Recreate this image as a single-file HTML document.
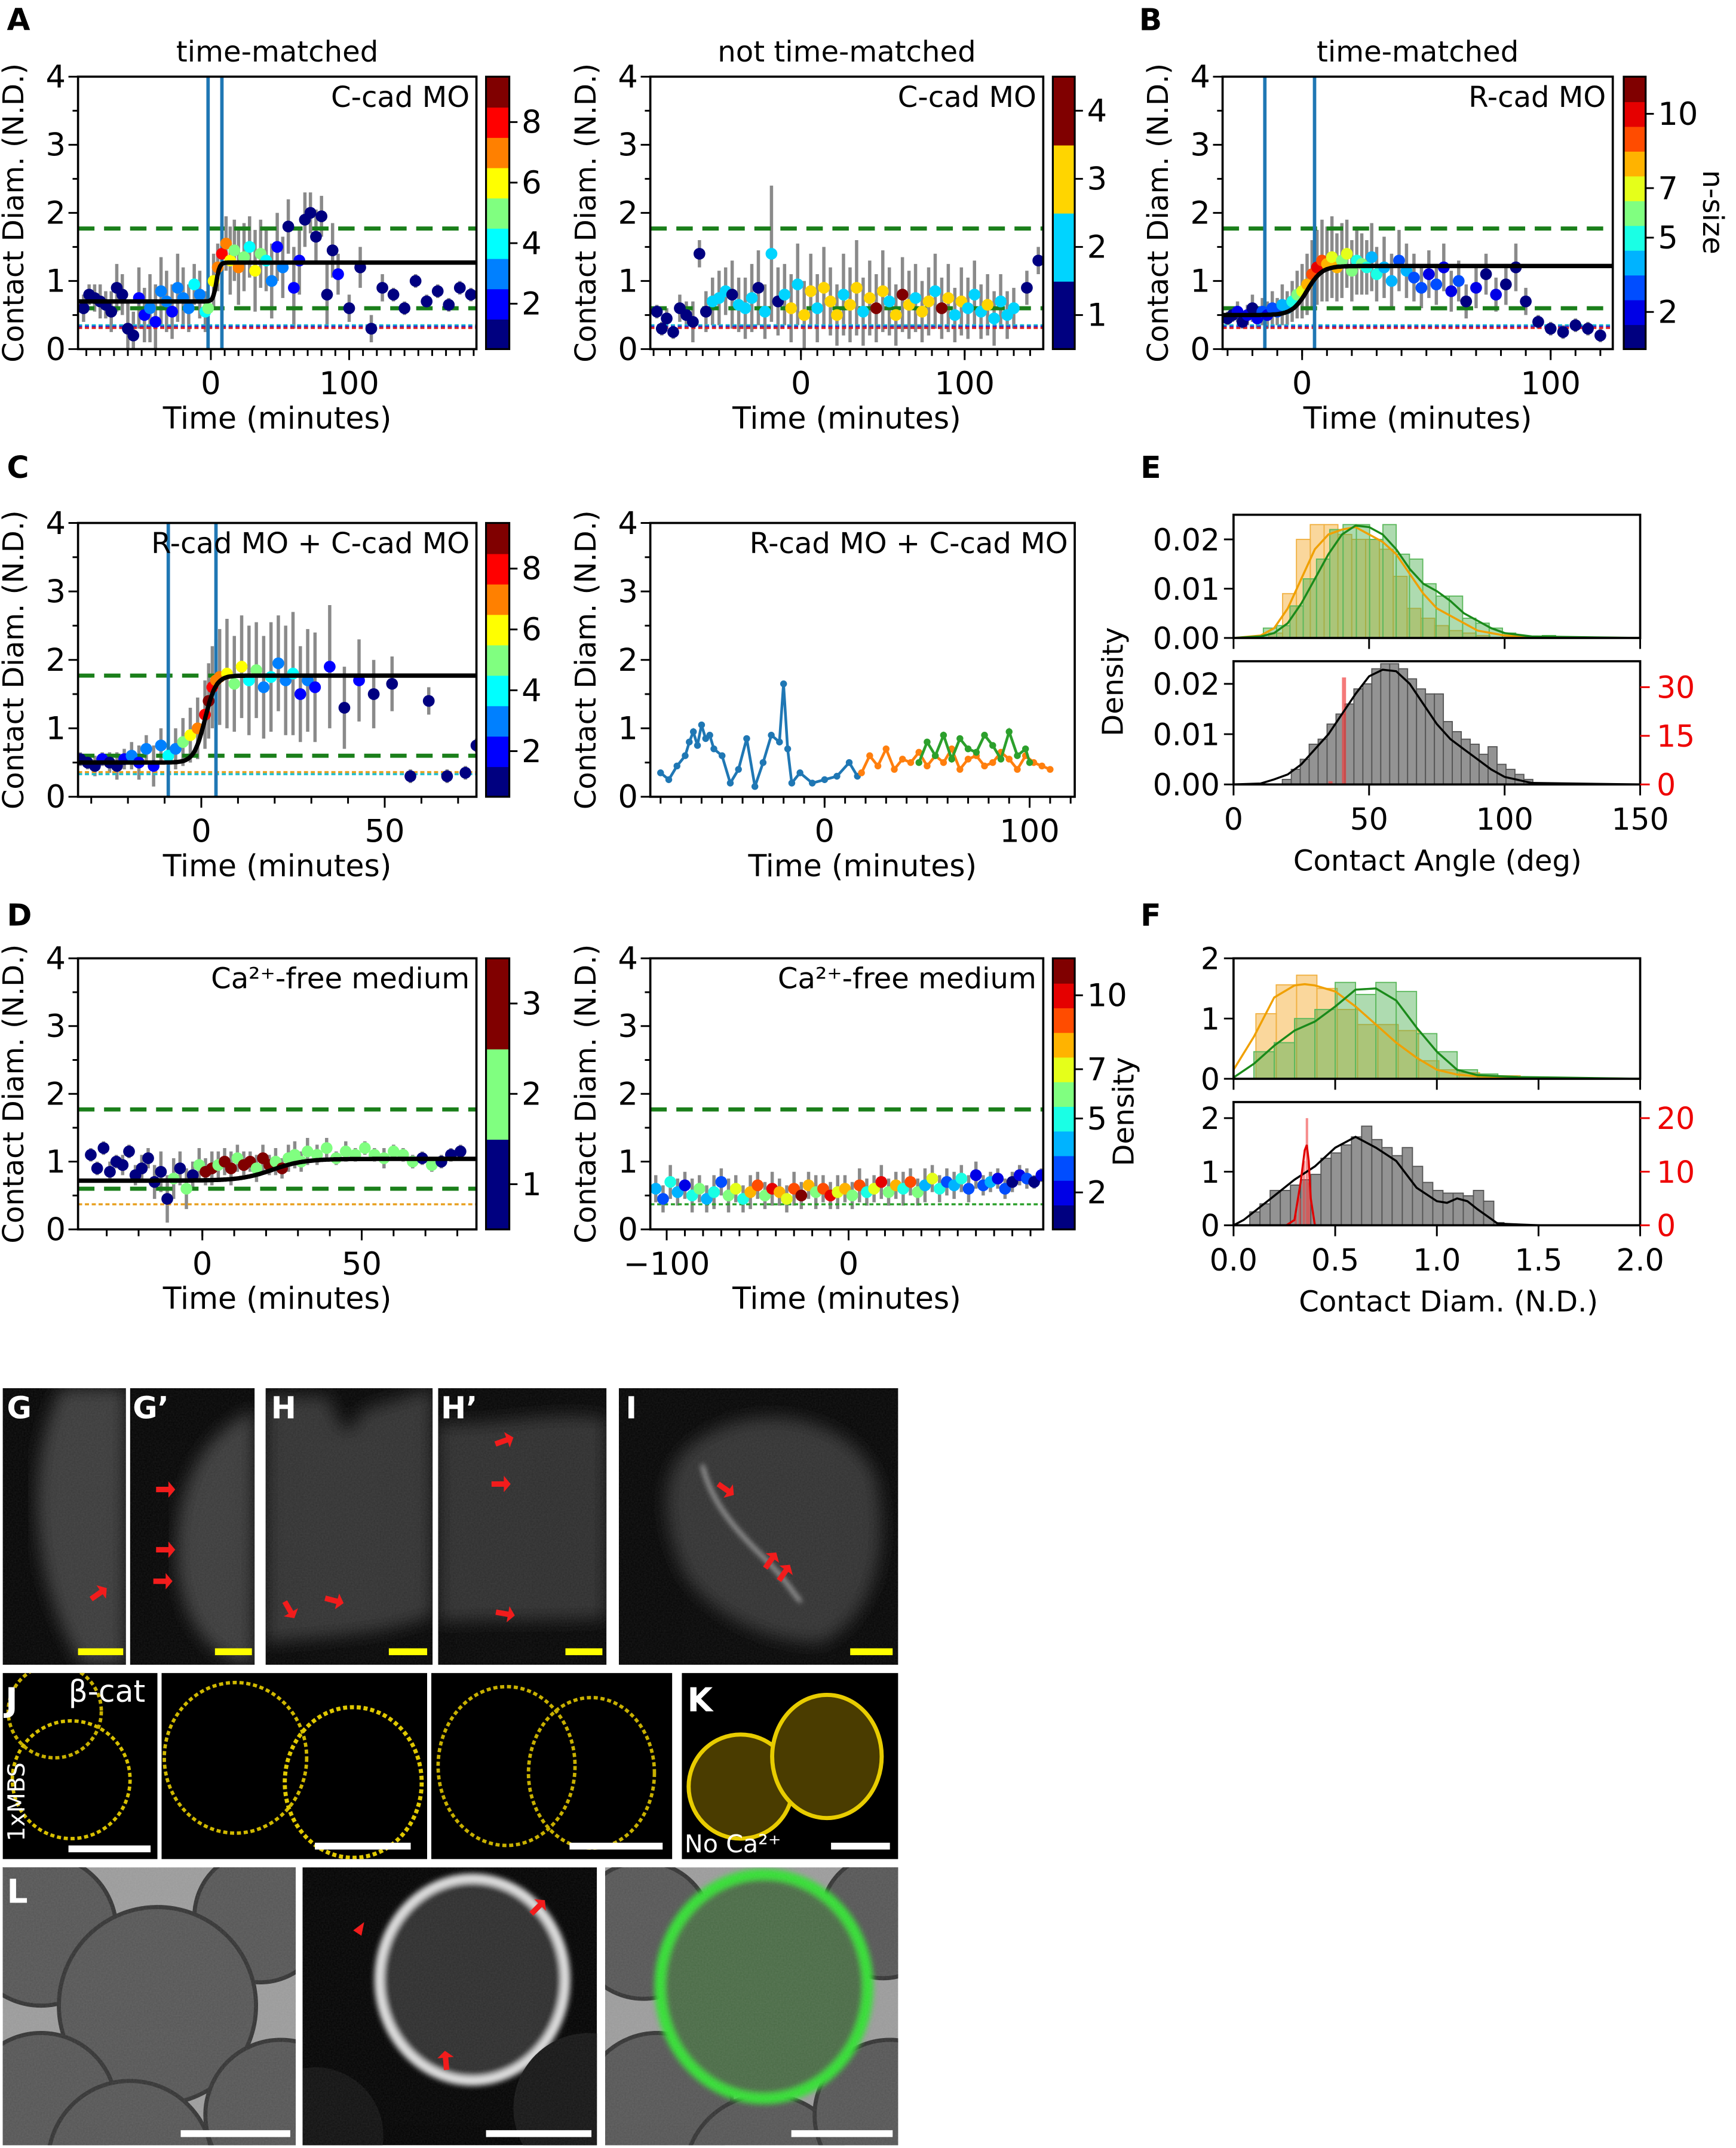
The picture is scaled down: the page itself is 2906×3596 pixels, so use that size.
<!DOCTYPE html>
<html><head><meta charset="utf-8">
<style>
html,body{margin:0;padding:0;background:#fff;width:2906px;height:3596px;overflow:hidden}
svg{display:block}
text{font-family:"DejaVu Sans","Liberation Sans",sans-serif}
</style></head>
<body>
<svg id="fig" xmlns="http://www.w3.org/2000/svg" width="2906" height="3596" viewBox="0 0 1268 1569" preserveAspectRatio="none">
<defs>
<filter id="blur2"><feGaussianBlur stdDeviation="2"/></filter>
<filter id="blur6"><feGaussianBlur stdDeviation="6"/></filter>
<filter id="noise" x="0" y="0" width="100%" height="100%">
<feTurbulence type="fractalNoise" baseFrequency="0.9" numOctaves="1" result="n"/>
<feColorMatrix type="matrix" values="0 0 0 0 1 0 0 0 0 1 0 0 0 0 1 0 0 0 0.35 0"/>
</filter>
</defs>
</svg>
<script>
// ---------- data: panel A (C-cad MO, time-matched) ----------
const tA1=[-92,-88,-84,-80,-76,-72,-68,-64,-60,-56,-52,-48,-44,-40,-36,-32,-28,-24,-20,-16,-12,-8,-4,-2,2,5,8,11,14,17,20,24,28,32,36,40,44,48,52,56,60,64,68,72,76,80,84,88,92,100,108,116,124,132,140,148,156,164,172,180,188];
const yA1=[0.6,0.8,0.75,0.7,0.65,0.55,0.9,0.8,0.3,0.2,0.75,0.5,0.6,0.4,0.85,0.7,0.55,0.9,0.75,0.6,0.95,0.8,0.55,0.6,1.0,1.2,1.4,1.55,1.3,1.45,1.2,1.35,1.5,1.15,1.4,1.3,1.0,1.5,1.2,1.8,0.9,1.3,1.9,2.0,1.65,1.95,0.8,1.45,1.1,0.6,1.2,0.3,0.9,0.8,0.6,1.0,0.7,0.85,0.65,0.9,0.8];
const nA1=[1,1,1,1,1,1,1,1,1,1,2,2,3,2,3,3,2,3,3,3,4,3,4,5,6,7,8,7,6,5,7,5,4,6,5,4,3,2,3,1,2,2,1,1,1,1,1,1,2,1,1,1,1,1,1,1,1,1,1,1,1];
const eA1=[0.2,0.15,0.2,0.25,0.2,0.3,0.35,0.3,0.4,0.35,0.45,0.4,0.5,0.55,0.5,0.45,0.4,0.5,0.45,0.35,0.3,0.35,0.3,0.3,0.4,0.35,0.45,0.4,0.5,0.45,0.55,0.5,0.45,0.6,0.5,0.45,0.55,0.5,0.45,0.4,0.6,0.5,0.4,0.3,0.4,0.3,0.5,0.4,0.3,0.2,0.3,0.2,0.2,0.1,0.1,0.1,0.1,0.1,0.1,0.1,0.1];
// ---------- panel A right (not time-matched) ----------
const tA2=[-88,-85,-82,-78,-74,-70,-66,-62,-58,-54,-50,-46,-42,-38,-34,-30,-26,-22,-18,-14,-10,-6,-2,2,6,10,14,18,22,26,30,34,38,42,46,50,54,58,62,66,70,74,78,82,86,90,94,98,102,106,110,114,118,122,126,130,138,145];
const yA2=[0.55,0.3,0.45,0.25,0.6,0.5,0.4,1.4,0.55,0.7,0.75,0.85,0.8,0.65,0.6,0.75,0.9,0.55,1.4,0.7,0.8,0.6,0.95,0.5,0.85,0.6,0.9,0.7,0.5,0.8,0.65,0.9,0.55,0.75,0.6,0.85,0.7,0.5,0.8,0.65,0.75,0.55,0.7,0.85,0.6,0.75,0.5,0.7,0.6,0.8,0.55,0.65,0.45,0.7,0.5,0.6,0.9,1.3];
const nA2=[1,1,1,1,1,1,1,1,1,2,2,2,1,2,2,2,1,2,2,1,2,3,2,3,3,2,3,3,3,2,3,3,2,3,4,3,2,3,4,3,2,3,3,2,4,3,2,3,2,2,2,3,2,2,2,2,1,1];
const eA2=[0.1,0.1,0.15,0.1,0.2,0.2,0.3,0.2,0.3,0.35,0.4,0.35,0.5,0.4,0.45,0.5,0.55,0.4,1.0,0.5,0.45,0.5,0.6,0.5,0.55,0.5,0.6,0.5,0.45,0.6,0.55,0.7,0.5,0.55,0.5,0.6,0.5,0.45,0.55,0.5,0.5,0.45,0.5,0.55,0.45,0.5,0.4,0.5,0.45,0.5,0.4,0.45,0.4,0.4,0.35,0.3,0.25,0.2];
// ---------- panel B (R-cad MO) ----------
const tB=[-30,-28,-26,-24,-22,-20,-18,-16,-14,-12,-10,-8,-6,-4,-2,0,2,4,6,8,10,12,14,16,18,20,22,24,26,28,30,33,36,39,42,45,48,51,54,57,60,63,66,70,74,78,82,86,90,95,100,105,110,115,120];
const yB=[0.45,0.5,0.55,0.4,0.5,0.6,0.45,0.55,0.5,0.6,0.55,0.65,0.6,0.7,0.8,0.85,0.95,1.1,1.2,1.3,1.25,1.35,1.2,1.3,1.4,1.15,1.3,1.25,1.2,1.35,1.1,1.2,1.0,1.3,1.15,1.05,0.9,1.1,0.95,1.2,0.85,1.0,0.7,0.9,1.1,0.8,0.95,1.2,0.7,0.4,0.3,0.25,0.35,0.3,0.2];
const nB=[1,1,2,1,2,1,2,3,2,3,3,4,4,5,6,7,8,9,10,9,8,7,8,6,7,6,5,6,5,4,5,4,4,3,4,3,3,2,3,2,2,3,1,2,1,2,1,1,1,1,1,1,1,1,1];
const eB=[0.1,0.1,0.15,0.1,0.15,0.2,0.15,0.2,0.2,0.25,0.2,0.3,0.25,0.3,0.35,0.4,0.45,0.5,0.55,0.6,0.55,0.6,0.5,0.55,0.5,0.45,0.5,0.45,0.4,0.5,0.4,0.45,0.4,0.45,0.4,0.35,0.3,0.35,0.3,0.35,0.3,0.3,0.25,0.3,0.3,0.25,0.3,0.35,0.2,0.1,0.1,0.1,0.1,0.1,0.1];
// ---------- panel C left (R-cad MO + C-cad MO) ----------
const tC1=[-33,-31,-29,-27,-25,-23,-21,-19,-17,-15,-13,-11,-9,-7,-5,-3,-1,1,2,3,4,5,7,9,11,13,15,17,19,21,23,25,27,29,31,35,39,43,47,52,57,62,67,72,75];
const yC1=[0.55,0.5,0.45,0.55,0.5,0.45,0.55,0.6,0.5,0.7,0.45,0.75,0.6,0.7,0.8,0.9,1.0,1.2,1.4,1.6,1.7,1.75,1.8,1.65,1.9,1.7,1.85,1.6,1.75,1.95,1.7,1.8,1.5,1.7,1.6,1.9,1.3,1.7,1.5,1.65,0.3,1.4,0.3,0.35,0.75];
const nC1=[1,1,1,2,1,1,2,3,2,3,2,3,4,3,5,6,7,8,9,8,7,7,6,5,6,4,5,3,4,3,3,4,2,3,2,2,1,2,1,1,1,1,1,1,1];
const eC1=[0.1,0.1,0.15,0.1,0.15,0.2,0.15,0.2,0.25,0.2,0.3,0.25,0.3,0.3,0.35,0.4,0.45,0.5,0.55,0.6,0.6,0.7,0.8,0.7,0.75,0.8,0.7,0.75,0.8,0.7,0.8,0.9,0.7,0.75,0.8,0.9,0.6,0.6,0.5,0.4,0.1,0.2,0.1,0.1,0.1];
// ---------- panel C right (individual traces) ----------
const tC2a=[-80,-76,-72,-68,-66,-64,-62,-60,-58,-56,-54,-50,-46,-42,-38,-34,-30,-26,-22,-20,-18,-16,-12,-6,0,6,12,16];
const yC2a=[0.35,0.25,0.45,0.6,0.8,0.95,0.75,1.05,0.85,0.9,0.7,0.6,0.2,0.4,0.85,0.15,0.5,0.9,0.8,1.65,0.7,0.2,0.35,0.2,0.25,0.3,0.5,0.3];
const tC2b=[18,22,26,30,34,38,42,46,50,54,58,62,66,70,74,78,82,86,90,94,98,102,106,110];
const yC2b=[0.35,0.6,0.45,0.7,0.4,0.55,0.5,0.65,0.45,0.6,0.5,0.7,0.4,0.55,0.6,0.45,0.5,0.65,0.55,0.4,0.6,0.5,0.45,0.4];
const tC2c=[46,50,54,58,62,66,70,74,78,82,86,90,94,98,100];
const yC2c=[0.5,0.8,0.6,0.9,0.55,0.85,0.7,0.65,0.9,0.75,0.55,0.95,0.6,0.7,0.5];
// ---------- panel D left (Ca2+-free) ----------
const tD1=[-35,-33,-31,-29,-27,-25,-23,-21,-19,-17,-15,-13,-11,-9,-7,-5,-3,-1,1,3,5,7,9,11,13,15,17,19,21,23,25,27,29,31,33,36,39,42,45,48,51,54,57,60,63,66,69,72,75,78,81];
const yD1=[1.1,0.9,1.2,0.85,1.0,0.95,1.15,0.8,0.9,1.05,0.7,0.85,0.45,0.75,0.9,0.6,0.8,0.95,0.85,0.9,0.95,1.0,0.9,1.05,0.95,1.0,0.9,1.05,0.95,1.0,0.9,1.05,1.1,1.0,1.15,1.1,1.2,1.05,1.15,1.1,1.2,1.1,1.05,1.15,1.1,1.0,1.05,0.95,1.0,1.1,1.15];
const nD1=[1,1,1,1,1,1,1,1,1,1,1,1,1,2,1,2,1,2,3,3,2,3,3,2,3,3,2,3,3,2,3,2,2,2,2,2,2,2,2,2,2,2,2,2,2,2,1,2,1,1,1];
const eD1=[0.1,0.1,0.1,0.15,0.1,0.15,0.1,0.15,0.2,0.15,0.25,0.3,0.35,0.3,0.25,0.3,0.2,0.25,0.2,0.25,0.2,0.2,0.25,0.2,0.2,0.15,0.2,0.2,0.15,0.2,0.15,0.2,0.2,0.15,0.2,0.15,0.15,0.1,0.15,0.1,0.1,0.1,0.15,0.1,0.1,0.1,0.1,0.1,0.1,0.1,0.1];
// ---------- panel D right ----------
const tD2=[-106,-102,-98,-94,-90,-86,-82,-78,-74,-70,-66,-62,-58,-54,-50,-46,-42,-38,-34,-30,-26,-22,-18,-14,-10,-6,-2,2,6,10,14,18,22,26,30,34,38,42,46,50,54,58,62,66,70,74,78,82,86,90,94,98,102,106];
const yD2=[0.6,0.45,0.7,0.55,0.65,0.5,0.6,0.45,0.55,0.7,0.5,0.6,0.45,0.55,0.65,0.5,0.6,0.55,0.45,0.6,0.5,0.65,0.55,0.6,0.5,0.55,0.6,0.5,0.65,0.55,0.6,0.7,0.55,0.65,0.6,0.7,0.55,0.65,0.75,0.6,0.7,0.65,0.75,0.6,0.8,0.65,0.7,0.75,0.6,0.7,0.8,0.75,0.7,0.8];
const nD2=[4,3,5,4,2,5,6,4,5,3,6,7,5,8,9,6,10,8,7,9,11,8,6,9,10,7,8,6,9,5,7,10,6,8,5,9,6,4,7,5,3,4,5,3,2,3,4,2,3,1,2,3,1,2];
const eD2=[0.2,0.2,0.25,0.2,0.2,0.25,0.2,0.2,0.25,0.2,0.25,0.2,0.2,0.25,0.2,0.2,0.25,0.2,0.2,0.25,0.2,0.2,0.25,0.2,0.2,0.25,0.2,0.2,0.25,0.2,0.2,0.25,0.2,0.2,0.25,0.2,0.2,0.25,0.2,0.2,0.2,0.2,0.2,0.2,0.2,0.15,0.15,0.15,0.15,0.15,0.15,0.15,0.1,0.1];
// ---------- panel E histograms ----------
const eOrStart=13, eOrW=5.1;
const eOrH=[0.001,0.009,0.020,0.023,0.023,0.021,0.020,0.020,0.018,0.0125,0.006,0.004,0.0025,0.0015,0.001,0.0005];
const eGrStart=11, eGrW=4.9;
const eGrH=[0.002,0.0025,0.0065,0.012,0.016,0.022,0.023,0.023,0.020,0.023,0.017,0.016,0.011,0.0085,0.0085,0.004,0.003,0.002,0.001,0,0,0.0005];
const eGyStart=18, eGyW=3.3;
const eGyH=[0.001,0.003,0.005,0.008,0.009,0.012,0.014,0.016,0.019,0.020,0.023,0.024,0.024,0.023,0.021,0.019,0.018,0.018,0.0125,0.0105,0.009,0.008,0.006,0.0075,0.004,0.003,0.002,0.001];
const eRedX=[35,40], eRedW=1.5, eRedH=[1,33];
const eKdeX=[0,10,15,20,25,30,35,40,45,50,55,60,65,70,75,80,85,90,95,100,110,150];
const eKdeOr=[0,0.0005,0.002,0.006,0.012,0.018,0.021,0.022,0.0225,0.021,0.0195,0.017,0.013,0.009,0.006,0.0045,0.003,0.0015,0.001,0.0005,0.0002,0];
const eKdeGr=[0,0.0003,0.001,0.003,0.007,0.012,0.017,0.021,0.0228,0.0225,0.021,0.018,0.014,0.011,0.0095,0.0075,0.005,0.0035,0.002,0.001,0.0003,0];
const eKdeGy=[0,0.0002,0.001,0.002,0.004,0.007,0.010,0.014,0.018,0.0215,0.0228,0.0225,0.020,0.016,0.012,0.009,0.007,0.005,0.003,0.0015,0.0003,0];
// ---------- panel F histograms ----------
const fOrStart=0.11, fOrW=0.1;
const fOrH=[1.08,1.56,1.72,1.5,1.15,0.9,0.9,0.8,0.3,0.15,0.1,0.05,0.05];
const fGrStart=0.1, fGrW=0.1;
const fGrH=[0.45,0.6,1.0,1.15,1.6,1.4,1.6,1.45,0.75,0.45,0.15,0.08,0.03];
const fGyStart=0.08, fGyW=0.05;
const fGyH=[0.25,0.4,0.65,0.65,0.75,0.85,0.95,1.25,1.35,1.5,1.65,1.85,1.6,1.45,1.3,1.45,1.1,0.8,0.65,0.6,0.6,0.55,0.65,0.45,0.05];
const fRedX=[0.30,0.32,0.34,0.355,0.365], fRedW=0.012, fRedH=[2,5,12,20,8];
const fKdeX=[0,0.1,0.2,0.3,0.35,0.4,0.5,0.6,0.7,0.8,0.9,1.0,1.1,1.2,1.4,2.0];
const fKdeOr=[0.15,0.7,1.35,1.55,1.57,1.55,1.45,1.2,0.9,0.6,0.35,0.15,0.07,0.04,0.02,0];
const fKdeGrX=[0,0.1,0.2,0.3,0.4,0.5,0.6,0.7,0.8,0.9,1.0,1.1,1.2,1.4,1.6,2.0];
const fKdeGr=[0.02,0.25,0.55,0.8,0.95,1.2,1.48,1.5,1.3,0.85,0.45,0.15,0.06,0.03,0.02,0];
const fKdeGyX=[0,0.05,0.1,0.2,0.3,0.4,0.5,0.6,0.7,0.8,0.9,1.0,1.05,1.1,1.15,1.2,1.3,1.5,2.0];
const fKdeGy=[0,0.1,0.25,0.55,0.85,1.1,1.45,1.65,1.45,1.2,0.7,0.45,0.42,0.5,0.45,0.3,0.03,0,0];
const fKdeRedX=[0.26,0.3,0.33,0.35,0.36,0.37,0.38,0.4];
const fKdeRed=[0,1,8,14,15,12,5,0];

const NS='http://www.w3.org/2000/svg';
const svg=document.getElementById('fig');
function mk(tag,a,p,name){
  const e=document.createElementNS(NS,tag);
  for(const k in a) e.setAttribute(k,a[k]);
  
  
  (p||svg).appendChild(e);
  return e;
}
function txt(x,y,s,size,opt,p,name){
  opt=opt||{};
  const a={x:x,y:y,'font-size':size,fill:opt.fill||'#000'};
  if(opt.anchor) a['text-anchor']=opt.anchor;
  if(opt.weight) a['font-weight']=opt.weight;
  if(opt.rot!==undefined) a.transform='rotate('+opt.rot+' '+x+' '+y+')';
  if(opt.family) a['font-family']=opt.family;
  const t=mk('text',a,p,name);
  t.textContent=s;
  return t;
}
function jet(v){
  const c=x=>Math.max(0,Math.min(1,x));
  const r=c(1.5-Math.abs(4*v-3)),g=c(1.5-Math.abs(4*v-2)),b=c(1.5-Math.abs(4*v-1));
  return 'rgb('+Math.round(r*255)+','+Math.round(g*255)+','+Math.round(b*255)+')';
}
let clipId=0;
function scatterPanel(P){
  const g=mk('g',{},svg,P.name);
  const sx=t=>P.l+(t-P.x0)/(P.x1-P.x0)*(P.r-P.l);
  const sy=v=>P.b-(v-0)/4*(P.b-P.t);
  const cid='clip'+(clipId++);
  const cp=mk('clipPath',{id:cid},g,'plot-clip');
  mk('rect',{x:P.l,y:P.t,width:P.r-P.l,height:P.b-P.t},cp,'clip-rect');
  const pl=mk('g',{'clip-path':'url(#'+cid+')'},g,'plot-area');
  if(P.E){
    for(let i=0;i<P.T.length;i++){
      mk('line',{x1:sx(P.T[i]),x2:sx(P.T[i]),y1:sy(P.Y[i]-P.E[i]),y2:sy(P.Y[i]+P.E[i]),stroke:'#8a8a8a','stroke-width':2.4},pl,'error-bar');
    }
  }
  (P.hl||[]).forEach(h=>{
    mk('line',{x1:P.l,x2:P.r,y1:sy(h[0]),y2:sy(h[0]),stroke:h[1],'stroke-width':h[2],'stroke-dasharray':h[3]},pl,'reference-line');
  });
  (P.vl||[]).forEach(v=>{
    mk('line',{x1:sx(v),x2:sx(v),y1:P.t,y2:P.b,stroke:'#1f77b4','stroke-width':2.5},pl,'event-line');
  });
  if(P.N){
    for(let i=0;i<P.T.length;i++){
      mk('circle',{cx:sx(P.T[i]),cy:sy(P.Y[i]),r:4.3,fill:jet((P.N[i]-1)/(P.nb-1))},pl,'data-point');
    }
  }
  (P.lines||[]).forEach(L=>{
    let d='';
    for(let i=0;i<L[0].length;i++) d+=(i?'L':'M')+sx(L[0][i]).toFixed(1)+','+sy(L[1][i]).toFixed(1);
    mk('path',{d:d,fill:'none',stroke:L[2],'stroke-width':2},pl,'trace-line');
    for(let i=0;i<L[0].length;i++) mk('circle',{cx:sx(L[0][i]),cy:sy(L[1][i]),r:2.5,fill:L[2]},pl,'trace-point');
  });
  if(P.sig){
    const [lo,hi,c,w]=P.sig; let d='';
    for(let k=0;k<=300;k++){const t=P.x0+(P.x1-P.x0)*k/300; const v=lo+(hi-lo)/(1+Math.exp(-(t-c)/w)); d+=(k?'L':'M')+sx(t).toFixed(1)+','+sy(v).toFixed(1);}
    mk('path',{d:d,fill:'none',stroke:'#000','stroke-width':3.2},pl,'sigmoid-fit');
  }
  mk('rect',{x:P.l,y:P.t,width:P.r-P.l,height:P.b-P.t,fill:'none',stroke:'#000','stroke-width':1.6},g,'axes-frame');
  for(let v=0;v<=4;v+=0.5){
    const maj=Math.abs(v-Math.round(v))<1e-6;
    mk('line',{x1:P.l,x2:P.l-(maj?7:4),y1:sy(v),y2:sy(v),stroke:'#000','stroke-width':1.3},g,'y-tick');
    if(maj) txt(P.l-9,sy(v)+8,String(v),23,{anchor:'end'},g,'y-tick-label');
  }
  for(let t=P.mstart;t<=P.x1;t+=P.mstep){
    mk('line',{x1:sx(t),x2:sx(t),y1:P.b,y2:P.b+5,stroke:'#000','stroke-width':1.3},g,'x-tick');
  }
  P.ticks.forEach((t,i)=>{
    mk('line',{x1:sx(t),x2:sx(t),y1:P.b,y2:P.b+8,stroke:'#000','stroke-width':1.3},g,'x-tick-major');
    txt(sx(t),P.b+33,P.tickLabels[i],23,{anchor:'middle'},g,'x-tick-label');
  });
  txt((P.l+P.r)/2,P.b+58,'Time (minutes)',22,{anchor:'middle'},g,'x-axis-title');
  txt(P.l-40,(P.t+P.b)/2,'Contact Diam. (N.D.)',21,{anchor:'middle',rot:-90},g,'y-axis-title');
  if(P.title) txt((P.l+P.r)/2,P.t-11,P.title,21,{anchor:'middle'},g,'panel-title');
  if(P.inner) txt(P.r-5,P.t+22,P.inner,21,{anchor:'end'},g,'condition-label');
  if(P.cb){
    const [cl,cr]=P.cb; const h=(P.b-P.t)/P.nb;
    for(let k=0;k<P.nb;k++) mk('rect',{x:cl,y:P.b-(k+1)*h,width:cr-cl,height:h+0.5,fill:jet(k/(P.nb-1))},g,'colorbar-bin');
    mk('rect',{x:cl,y:P.t,width:cr-cl,height:P.b-P.t,fill:'none',stroke:'#000','stroke-width':1.4},g,'colorbar-frame');
    P.cbTicks.forEach(v=>{
      const y=P.b-(v-0.5)*h;
      mk('line',{x1:cr,x2:cr+6,y1:y,y2:y,stroke:'#000','stroke-width':1.3},g,'colorbar-tick');
      txt(cr+9,y+8,String(v),23,{},g,'colorbar-tick-label');
    });
  }
  return g;
}
const hlStd=[[1.77,'#1a7f1a',3,'12,7'],[0.6,'#1a7f1a',3,'12,7'],[0.35,'#17becf',1.5,'3,2'],[0.33,'#2b2bd6',1.5,'3,2'],[0.31,'#e02020',1.5,'3,2']];
scatterPanel({name:'panel-a-time-matched',l:57,r:348,t:56,b:255,x0:-96,x1:192,T:tA1,Y:yA1,N:nA1,E:eA1,nb:9,cb:[355,372],cbTicks:[2,4,6,8],ticks:[0,100],tickLabels:['0','100'],mstart:-90,mstep:10,title:'time-matched',inner:'C-cad MO',vl:[-2,8],sig:[0.7,1.27,4,1.2],hl:hlStd});
scatterPanel({name:'panel-a-not-time-matched',l:475,r:762,t:56,b:255,x0:-92,x1:148,T:tA2,Y:yA2,N:nA2,E:eA2,nb:4,cb:[769,785],cbTicks:[1,2,3,4],ticks:[0,100],tickLabels:['0','100'],mstart:-90,mstep:10,title:'not time-matched',inner:'C-cad MO',hl:hlStd});
scatterPanel({name:'panel-b-rcad',l:893,r:1178,t:56,b:255,x0:-32,x1:125,T:tB,Y:yB,N:nB,E:eB,nb:11,cb:[1186,1202],cbTicks:[2,5,7,10],ticks:[0,100],tickLabels:['0','100'],mstart:-30,mstep:10,title:'time-matched',inner:'R-cad MO',vl:[-15,5],sig:[0.5,1.22,2,3],hl:hlStd});
scatterPanel({name:'panel-c-time-matched',l:57,r:348,t:382,b:582,x0:-33.6,x1:75,T:tC1,Y:yC1,N:nC1,E:eC1,nb:9,cb:[355,372],cbTicks:[2,4,6,8],ticks:[0,50],tickLabels:['0','50'],mstart:-30,mstep:10,inner:'R-cad MO + C-cad MO',vl:[-9,4],sig:[0.5,1.77,1,1.5],hl:[[1.77,'#1a7f1a',3,'12,7'],[0.6,'#1a7f1a',3,'12,7'],[0.36,'#e8a020',1.5,'3,2'],[0.33,'#17becf',1.5,'3,2']]});
scatterPanel({name:'panel-c-traces',l:475,r:785,t:382,b:582,x0:-85,x1:122,T:[],Y:[],ticks:[0,100],tickLabels:['0','100'],mstart:-80,mstep:10,inner:'R-cad MO + C-cad MO',lines:[[tC2a,yC2a,'#1f77b4'],[tC2b,yC2b,'#ff7f0e'],[tC2c,yC2c,'#2ca02c']]});
scatterPanel({name:'panel-d-left',l:57,r:348,t:700,b:898,x0:-39,x1:86,T:tD1,Y:yD1,N:nD1,E:eD1,nb:3,cb:[355,372],cbTicks:[1,2,3],ticks:[0,50],tickLabels:['0','50'],mstart:-30,mstep:10,inner:'Ca²⁺-free medium',sig:[0.72,1.04,22,5],hl:[[1.77,'#1a7f1a',3,'12,7'],[0.6,'#1a7f1a',3,'12,7'],[0.37,'#e8a020',1.5,'3,2']]});
scatterPanel({name:'panel-d-right',l:475,r:762,t:700,b:898,x0:-109,x1:107,T:tD2,Y:yD2,N:nD2,E:eD2,nb:11,cb:[769,785],cbTicks:[2,5,7,10],ticks:[-100,0],tickLabels:['−100','0'],mstart:-100,mstep:10,inner:'Ca²⁺-free medium',hl:[[1.77,'#1a7f1a',3,'12,7'],[0.37,'#2ca02c',1.5,'3,2']]});
txt(1244,155,'n-size',21,{anchor:'middle',rot:90},svg,'colorbar-title');

function histAx(name,l,r,t,b,xmax,ymax,yTicks,yLabels,xTicks,xLabels,showXLabels,red){
  const g=mk('g',{},svg,name);
  const A={g:g,sx:v=>l+v/xmax*(r-l),sy:v=>b-v/ymax*(b-t),l:l,r:r,t:t,b:b};
  if(red) A.sr=v=>b-v/red.max*(b-t);
  A.frame=()=>{
    mk('rect',{x:l,y:t,width:r-l,height:b-t,fill:'none',stroke:'#000','stroke-width':1.6},g,'axes-frame');
    yTicks.forEach((v,i)=>{mk('line',{x1:l,x2:l-7,y1:A.sy(v),y2:A.sy(v),stroke:'#000','stroke-width':1.3},g,'y-tick');
      txt(l-10,A.sy(v)+8,yLabels[i],22,{anchor:'end'},g,'y-tick-label');});
    xTicks.forEach((v,i)=>{mk('line',{x1:A.sx(v),x2:A.sx(v),y1:b,y2:b+8,stroke:'#000','stroke-width':1.3},g,'x-tick');
      if(showXLabels) txt(A.sx(v),b+33,xLabels[i],22,{anchor:'middle'},g,'x-tick-label');});
    if(red){red.ticks.forEach(v=>{mk('line',{x1:r,x2:r+7,y1:A.sr(v),y2:A.sr(v),stroke:'#e00','stroke-width':1.3},g,'right-tick');
      txt(r+12,A.sr(v)+8,String(v),22,{fill:'#e00'},g,'right-tick-label');});}
  };
  return A;
}
function bars(A,start,w,H,fill,op,stroke){
  H.forEach((h,i)=>{
    const x0=start+i*w;
    mk('rect',{x:A.sx(x0),y:A.sy(h),width:A.sx(x0+w)-A.sx(x0),height:A.b-A.sy(h),fill:fill,'fill-opacity':op,stroke:stroke,'stroke-width':0.8},A.g,'histogram-bar');
  });
}
function barsAt(A,X,w,H,fill,op){
  X.forEach((x,i)=>{mk('rect',{x:A.sx(x),y:A.sr(H[i]),width:A.sx(x+w)-A.sx(x),height:A.b-A.sr(H[i]),fill:fill,'fill-opacity':op},A.g,'histogram-bar');});
}
function curve(A,X,Y,col,useRed){
  const sy=useRed?A.sr:A.sy; let d='';
  X.forEach((x,i)=>{d+=(i?'L':'M')+A.sx(x).toFixed(1)+','+sy(Y[i]).toFixed(1);});
  mk('path',{d:d,fill:'none',stroke:col,'stroke-width':1.5},A.g,'kde-curve');
}
const E1=histAx('panel-e-top',901,1198,376,466,150,0.025,[0,0.01,0.02],['0.00','0.01','0.02'],[0,50,100,150],[],false);
bars(E1,eOrStart,eOrW,eOrH,'#f5a623',0.45,'#f0b040');
bars(E1,eGrStart,eGrW,eGrH,'#4caf50',0.45,'#5cb85c');
curve(E1,eKdeX,eKdeOr,'#f0a000'); curve(E1,eKdeX,eKdeGr,'#1a8a1a'); E1.frame();
const E2=histAx('panel-e-bottom',901,1198,483,573,150,0.0245,[0,0.01,0.02],['0.00','0.01','0.02'],[0,50,100,150],['0','50','100','150'],true,{max:38,ticks:[0,15,30]});
bars(E2,eGyStart,eGyW,eGyH,'#808080',0.85,'#555');
barsAt(E2,eRedX,eRedW,eRedH,'#f04040',0.7);
curve(E2,eKdeX,eKdeGy,'#000'); E2.frame();
txt(1050,636,'Contact Angle (deg)',21,{anchor:'middle'},svg,'x-axis-title');
txt(820,498,'Density',21,{anchor:'middle',rot:-90},svg,'y-axis-title');
const F1=histAx('panel-f-top',901,1198,700,788,2.0,2.0,[0,1,2],['0','1','2'],[0,0.5,1,1.5,2],[],false);
bars(F1,fOrStart,fOrW,fOrH,'#f5a623',0.45,'#f0b040');
bars(F1,fGrStart,fGrW,fGrH,'#4caf50',0.45,'#5cb85c');
curve(F1,fKdeX,fKdeOr,'#f0a000'); curve(F1,fKdeGrX,fKdeGr,'#1a8a1a'); F1.frame();
const F2=histAx('panel-f-bottom',901,1198,805,895,2.0,2.3,[0,1,2],['0','1','2'],[0,0.5,1,1.5,2],['0.0','0.5','1.0','1.5','2.0'],true,{max:23,ticks:[0,10,20]});
bars(F2,fGyStart,fGyW,fGyH,'#808080',0.85,'#555');
barsAt(F2,fRedX,fRedW,fRedH,'#f04040',0.6);
curve(F2,fKdeGyX,fKdeGy,'#000'); curve(F2,fKdeRedX,fKdeRed,'#e00000',true); F2.frame();
txt(1058,958,'Contact Diam. (N.D.)',21,{anchor:'middle'},svg,'x-axis-title');
txt(828,812,'Density',21,{anchor:'middle',rot:-90},svg,'y-axis-title');

[['A',5,22],['B',832,22],['C',5,349],['E',833,349],['D',5,676],['F',833,676]].forEach(p=>{
  txt(p[1],p[2],p[0],22,{weight:'bold',family:'Liberation Sans, sans-serif'},svg,'panel-letter');
});

// ---------- microscopy ----------
function img(name,x,y,w,h,bg){
  const g=mk('g',{},svg,name);
  const cid='clip'+(clipId++);
  const cp=mk('clipPath',{id:cid},g,'image-clip');
  mk('rect',{x:x,y:y,width:w,height:h},cp,'clip-rect');
  const inner=mk('g',{'clip-path':'url(#'+cid+')'},g,'image-content');
  mk('rect',{x:x,y:y,width:w,height:h,fill:bg},inner,'image-background');
  return inner;
}
function noise(p,x,y,w,h,op){mk('rect',{x:x,y:y,width:w,height:h,filter:'url(#noise)',opacity:op},p,'image-noise');}
function arrow(p,x,y,ang){
  const g=mk('g',{transform:'translate('+x+','+y+') rotate('+ang+')'},p,'red-arrow');
  mk('path',{d:'M-14,-2 L-5,-2 L-5,-6 L0,0 L-5,6 L-5,2 L-14,2 Z',fill:'#f21c1c'},g,'arrow-shape');
}
function sbar(p,x1,x2,y,col){mk('rect',{x:x1,y:y,width:x2-x1,height:5,fill:col},p,'scale-bar');}
function lab(p,x,y,s,size){txt(x,y,s,size||22,{fill:'#fff',weight:'bold',family:'Liberation Sans, sans-serif'},p,'image-label');}
const CELL='#3a3a3a';
let m=img('image-g',2,1014,90,202,'#050505');
mk('path',{d:'M45,1014 C20,1060 18,1150 60,1216 L92,1216 L92,1014 Z',fill:CELL,filter:'url(#blur6)'},m,'cell-region');
noise(m,2,1014,90,202,0.25); arrow(m,78,1160,-35); sbar(m,57,90,1204,'#ffff00'); lab(m,5,1036,'G');
m=img('image-g-prime',95,1014,91,202,'#050505');
mk('path',{d:'M186,1030 C140,1050 125,1100 130,1150 C135,1190 160,1216 186,1216 Z',fill:CELL,filter:'url(#blur6)'},m,'cell-region');
noise(m,95,1014,91,202,0.25); arrow(m,128,1088,0); arrow(m,128,1132,0); arrow(m,126,1155,0); sbar(m,157,184,1204,'#ffff00'); lab(m,97,1036,"G’");
m=img('image-h',194,1014,122,202,'#060606');
mk('path',{d:'M194,1020 L240,1020 C250,1050 255,1050 265,1030 L316,1014 L316,1180 C280,1195 240,1195 194,1200 Z',fill:'#303030',filter:'url(#blur6)'},m,'cell-region');
noise(m,194,1014,122,202,0.25); arrow(m,215,1182,60); arrow(m,251,1171,15); sbar(m,284,312,1204,'#ffff00'); lab(m,198,1036,'H');
m=img('image-h-prime',320,1014,123,202,'#060606');
mk('path',{d:'M320,1040 C380,1040 400,1030 443,1036 L443,1182 C400,1185 360,1182 320,1185 Z',fill:'#2e2e2e',filter:'url(#blur6)'},m,'cell-region');
noise(m,320,1014,123,202,0.25); arrow(m,375,1050,-20); arrow(m,373,1084,0); arrow(m,376,1180,10); sbar(m,413,440,1204,'#ffff00'); lab(m,322,1036,"H’");
m=img('image-i',452,1014,204,202,'#060606');
mk('path',{d:'M500,1060 C540,1020 620,1030 640,1080 C650,1130 640,1180 600,1200 C560,1200 520,1180 500,1150 C485,1120 480,1080 500,1060 Z',fill:'#333',filter:'url(#blur6)'},m,'cell-region');
mk('path',{d:'M513,1070 C520,1100 540,1120 560,1140 C575,1155 580,1165 585,1170',fill:'none',stroke:'#ccc','stroke-width':2,filter:'url(#blur2)'},m,'contact-line');
noise(m,452,1014,204,202,0.25); arrow(m,536,1092,35); arrow(m,567,1134,-55); arrow(m,577,1143,-55); sbar(m,621,652,1204,'#ffff00'); lab(m,457,1036,'I');
m=img('image-j1',2,1222,113,136,'#000');
mk('circle',{cx:52,cy:1300,r:43,fill:'none',stroke:'#d8c000','stroke-width':2.5,'stroke-dasharray':'3,2'},m,'cell-ring');
mk('circle',{cx:40,cy:1250,r:34,fill:'none',stroke:'#c8b000','stroke-width':2.5,'stroke-dasharray':'3,2'},m,'cell-ring');
sbar(m,50,110,1348,'#ffffff');
lab(m,4,1250,'J',24);
txt(50,1243,'β-cat',22,{fill:'#fff',family:'Liberation Serif, serif'},m,'stain-label');
txt(18,1345,'1xMBS',17,{fill:'#fff',rot:-90},m,'condition-label');
m=img('image-j2',118,1222,194,136,'#000');
mk('ellipse',{cx:172,cy:1284,rx:52,ry:55,fill:'none',stroke:'#d0b800','stroke-width':2.5,'stroke-dasharray':'3,2'},m,'cell-ring');
mk('ellipse',{cx:258,cy:1302,rx:50,ry:55,fill:'none',stroke:'#e0c800','stroke-width':3,'stroke-dasharray':'3,2'},m,'cell-ring');
sbar(m,230,300,1346,'#ffffff');
m=img('image-j3',315,1222,176,136,'#000');
mk('ellipse',{cx:370,cy:1290,rx:50,ry:58,fill:'none',stroke:'#c8b000','stroke-width':2.5,'stroke-dasharray':'3,2'},m,'cell-ring');
mk('ellipse',{cx:432,cy:1295,rx:46,ry:55,fill:'none',stroke:'#c8b000','stroke-width':2.5,'stroke-dasharray':'3,2'},m,'cell-ring');
sbar(m,416,484,1346,'#ffffff');
m=img('image-k',498,1222,158,136,'#000');
mk('circle',{cx:541,cy:1305,r:38,fill:'#4a3c00',stroke:'#e8cc00','stroke-width':3},m,'cell-filled');
mk('ellipse',{cx:604,cy:1283,rx:40,ry:45,fill:'#4a3c00',stroke:'#e8cc00','stroke-width':3},m,'cell-filled');
sbar(m,607,650,1346,'#ffffff'); lab(m,502,1250,'K',24);
txt(500,1353,'No Ca²⁺',18,{fill:'#fff'},m,'condition-label');
m=img('image-l-brightfield',2,1364,214,203,'#9a9a9a');
[[30,1410,55],[190,1400,48],[115,1465,72],[30,1540,55],[95,1580,60],[205,1545,55]].forEach(c=>{
  mk('circle',{cx:c[0],cy:c[1],r:c[2],fill:'#555',stroke:'#333','stroke-width':3},m,'cell-body');});
noise(m,2,1364,214,203,0.3); sbar(m,132,212,1556,'#ffffff'); lab(m,5,1390,'L',24);
m=img('image-l-fluorescence',221,1364,215,203,'#030303');
mk('ellipse',{cx:345,cy:1446,rx:68,ry:74,fill:'#2e2e2e',stroke:'#dcdcdc','stroke-width':7,filter:'url(#blur2)'},m,'cell-ring');
mk('circle',{cx:430,cy:1540,r:55,fill:'#161616'},m,'cell-dim');
mk('circle',{cx:230,cy:1560,r:50,fill:'#111'},m,'cell-dim');
noise(m,221,1364,215,203,0.25); arrow(m,398,1388,-45); arrow(m,325,1498,-95);
mk('path',{d:'M258,1410 L266,1404 L264,1414 Z',fill:'#f21c1c'},m,'red-arrowhead');
sbar(m,355,432,1556,'#ffffff');
m=img('image-l-merge',442,1364,214,203,'#9a9a9a');
[[470,1410,50],[645,1400,45],[480,1540,55],[560,1590,60],[650,1545,55]].forEach(c=>{
  mk('circle',{cx:c[0],cy:c[1],r:c[2],fill:'#555',stroke:'#333','stroke-width':3},m,'cell-body');});
mk('ellipse',{cx:558,cy:1451,rx:76,ry:82,fill:'#4a6a44',stroke:'#33dd33','stroke-width':8,filter:'url(#blur2)'},m,'cell-ring-green');
noise(m,442,1364,214,203,0.3); sbar(m,578,652,1556,'#ffffff');
</script>
</body></html>
